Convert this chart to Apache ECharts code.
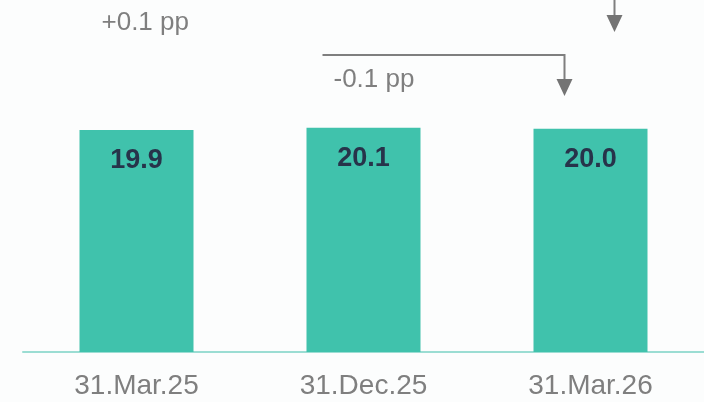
<!DOCTYPE html>
<html>
<head>
<meta charset="utf-8">
<script src="https://cdn.jsdelivr.net/npm/echarts@6/dist/echarts.min.js"></script>
<style>
  html, body { margin: 0; padding: 0; background: #fcfdfd; }
  #chart { width: 704px; height: 402px; }
</style>
</head>
<body>
<div id="chart"></div>
<script>
var chart = echarts.init(document.getElementById('chart'));

// categories and values
var dates = ['31.Mar.25', '31.Dec.25', '31.Mar.26'];
var ratios = [19.9, 20.1, 20.0];
// change labels: [text, from index, to index]
var deltaText = ['+0.1 pp', '-0.1 pp'];
var deltaFrom = [0, 1];
var deltaTo = [2, 2];

var grey = '#7f7f7f';

chart.setOption({
  backgroundColor: '#fcfdfd',
  animation: false,
  grid: { left: 23, right: 0, top: 0, bottom: 50 },
  xAxis: {
    type: 'category',
    data: dates,
    axisLine: { lineStyle: { color: '#9bddd3', width: 2 } },
    axisTick: { show: false },
    axisLabel: {
      color: grey,
      fontFamily: 'Liberation Sans, Arial, sans-serif',
      fontSize: 28,
      margin: 20
    }
  },
  yAxis: {
    type: 'value',
    min: 0,
    max: 31.55,
    show: false,
    splitLine: { show: false }
  },
  series: [{
    type: 'bar',
    data: ratios,
    barWidth: 114,
    itemStyle: { color: '#40c2ac' },
    label: {
      show: true,
      position: 'insideTop',
      distance: 17,
      formatter: function (p) { return p.value.toFixed(1); },
      color: '#27334a',
      fontWeight: 'bold',
      fontFamily: 'Liberation Sans, Arial, sans-serif',
      fontSize: 27
    }
  }]
});

// brackets with arrows, placed from the category positions
function px(i) { return chart.convertToPixel({ xAxisIndex: 0 }, i); }
var lineStyle = { stroke: grey, lineWidth: 2 };
function arrowHead(x, y) {
  return {
    type: 'polygon',
    shape: { points: [[x - 8, y], [x + 8, y], [x, y + 17]] },
    style: { fill: '#747474' }
  };
}

var x1a = px(deltaFrom[0]), x1b = px(deltaTo[0]) + 24;
var x2a = px(deltaFrom[1]) - 41, x2b = px(deltaTo[1]) - 26;

chart.setOption({
  graphic: [
    { type: 'polyline', shape: { points: [[x1b, -20], [x1b, 16]] }, style: lineStyle },
    arrowHead(x1b, 15),
    { type: 'text', x: x1a - 35, y: 23, style: {
        text: deltaText[0], fill: grey, font: '26px Liberation Sans, Arial, sans-serif',
        verticalAlign: 'middle' } },
    { type: 'polyline', shape: { points: [[x2a, 55], [x2b, 55], [x2b, 80]] }, style: lineStyle },
    arrowHead(x2b, 79),
    { type: 'text', x: x2a + 11, y: 80, style: {
        text: deltaText[1], fill: grey, font: '26px Liberation Sans, Arial, sans-serif',
        verticalAlign: 'middle' } }
  ]
});
</script>
</body>
</html>
